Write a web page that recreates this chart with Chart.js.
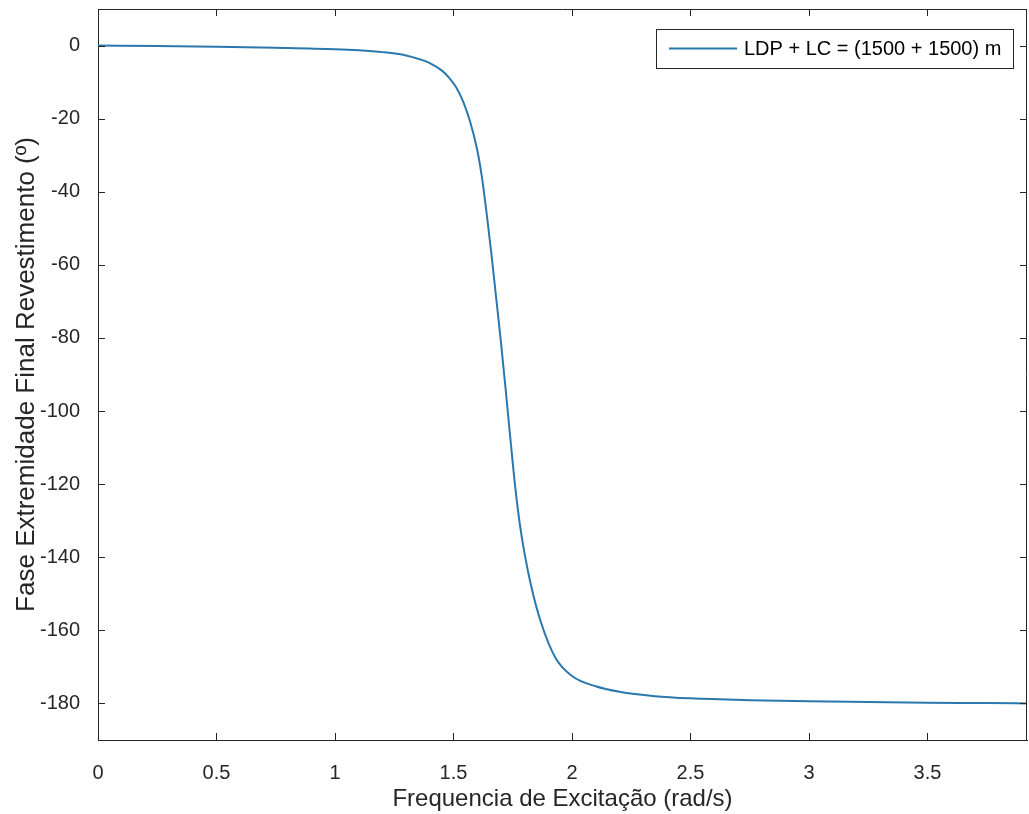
<!DOCTYPE html>
<html>
<head>
<meta charset="utf-8">
<script src="https://cdn.jsdelivr.net/npm/chart.js@4.4.1/dist/chart.umd.min.js"></script>
<style>
  html, body { margin: 0; padding: 0; background: #fff; }
  #wrap { width: 1029px; height: 814px; }
</style>
</head>
<body>
<div id="wrap"><canvas id="myChart" width="1029" height="814"></canvas></div>
<script>
// data
const freq = [0, 0.25, 0.5, 0.75, 1.0, 1.1, 1.2, 1.3, 1.36, 1.4, 1.45, 1.48, 1.51, 1.54, 1.57, 1.6, 1.62,
  1.64, 1.66, 1.68, 1.70, 1.72, 1.74, 1.76, 1.78, 1.80, 1.83, 1.87, 1.93, 2.0, 2.1, 2.2, 2.35, 2.5,
  2.75, 3.0, 3.25, 3.5, 3.75, 3.92];
const phase = [0, -0.1, -0.3, -0.6, -1.0, -1.3, -1.8, -2.7, -3.8, -4.8, -6.8, -8.7, -11.3, -15.2, -20.8, -28.5, -36,
  -46, -57, -69, -81, -94, -107.5, -120.5, -131, -139, -148.5, -158, -167.5, -172.5, -175.3, -176.8, -178, -178.6,
  -179.1, -179.4, -179.6, -179.8, -179.9, -180];
const xTicks = [0, 0.5, 1, 1.5, 2, 2.5, 3, 3.5];
const yTicks = [-180, -160, -140, -120, -100, -80, -60, -40, -20, 0];
const seriesLabel = 'LDP + LC = (1500 + 1500) m';

const axisColor = '#262626';
const lineColor = '#2a78ae';
const fontName = '"Liberation Sans", Arial, sans-serif';

const points = freq.map((f, i) => ({ x: f, y: phase[i] }));

// box, inner ticks and legend like matlab
const boxPlugin = {
  id: 'boxPlugin',
  afterDraw(chart) {
    const ctx = chart.ctx;
    const a = chart.chartArea;
    const xs = chart.scales.x, ys = chart.scales.y;
    const tl = 7;
    ctx.save();
    ctx.strokeStyle = axisColor;
    ctx.lineWidth = 1;
    ctx.beginPath();
    ctx.moveTo(a.left, a.top + 0.5); ctx.lineTo(a.right, a.top + 0.5);
    ctx.moveTo(a.right - 0.5, a.top); ctx.lineTo(a.right - 0.5, a.bottom);
    xTicks.forEach(v => {
      const px = Math.round(xs.getPixelForValue(v)) + 0.5;
      ctx.moveTo(px, a.bottom); ctx.lineTo(px, a.bottom - tl);
      ctx.moveTo(px, a.top); ctx.lineTo(px, a.top + tl);
    });
    yTicks.forEach(v => {
      const py = Math.round(ys.getPixelForValue(v)) + 0.5;
      ctx.moveTo(a.left, py); ctx.lineTo(a.left + tl, py);
      ctx.moveTo(a.right, py); ctx.lineTo(a.right - tl, py);
    });
    ctx.stroke();

    // legend
    const lx = 656, ly = 29, lw = 357, lh = 39;
    ctx.fillStyle = '#fff';
    ctx.fillRect(lx, ly, lw, lh);
    ctx.strokeStyle = axisColor;
    ctx.strokeRect(lx + 0.5, ly + 0.5, lw, lh);
    ctx.strokeStyle = lineColor;
    ctx.lineWidth = 2;
    ctx.beginPath();
    ctx.moveTo(669, ly + lh / 2); ctx.lineTo(737, ly + lh / 2);
    ctx.stroke();
    ctx.fillStyle = '#000';
    ctx.font = '20px ' + fontName;
    ctx.textBaseline = 'middle';
    ctx.textAlign = 'left';
    ctx.fillText(chart.data.datasets[0].label, 744, ly + lh / 2 + 1);
    ctx.restore();
  }
};

const ctx = document.getElementById('myChart');
const phaseChart = new Chart(ctx, {
  type: 'line',
  data: {
    datasets: [{
      label: seriesLabel,
      data: points,
      borderColor: lineColor,
      borderWidth: 2,
      pointRadius: 0,
      cubicInterpolationMode: 'monotone',
      fill: false
    }]
  },
  options: {
    responsive: false,
    animation: false,
    devicePixelRatio: 1,
    layout: { padding: { top: 9, right: 2, left: 0, bottom: 0 } },
    plugins: {
      legend: { display: false },
      tooltip: { enabled: false }
    },
    scales: {
      x: {
        type: 'linear',
        min: 0,
        max: 3.92,
        grid: { display: false },
        border: { display: true, color: axisColor, width: 1 },
        afterBuildTicks: (s) => { s.ticks = xTicks.map(v => ({ value: v })); },
        afterFit: (s) => { s.height = 74; s.paddingLeft = 0; s.paddingRight = 0; },
        ticks: {
          color: axisColor,
          font: { family: fontName, size: 20 },
          padding: 13,
          maxRotation: 0,
          autoSkip: false,
          callback: (v) => String(v)
        },
        title: {
          display: true,
          text: 'Frequencia de Excitação (rad/s)',
          color: axisColor,
          font: { family: fontName, size: 24 },
          padding: { top: 0, bottom: 0 }
        }
      },
      y: {
        type: 'linear',
        min: -190,
        max: 10,
        grid: { display: false },
        border: { display: true, color: axisColor, width: 1 },
        afterBuildTicks: (s) => { s.ticks = yTicks.map(v => ({ value: v })); },
        afterFit: (s) => { s.width = 98; s.paddingTop = 0; s.paddingBottom = 0; },
        ticks: {
          color: axisColor,
          font: { family: fontName, size: 20 },
          padding: 10,
          autoSkip: false,
          callback: (v) => String(v)
        },
        title: {
          display: true,
          text: 'Fase Extremidade Final Revestimento (º)',
          color: axisColor,
          font: { family: fontName, size: 26 },
          padding: { top: 11, bottom: 0 }
        }
      }
    }
  },
  plugins: [boxPlugin]
});
</script>
</body>
</html>
